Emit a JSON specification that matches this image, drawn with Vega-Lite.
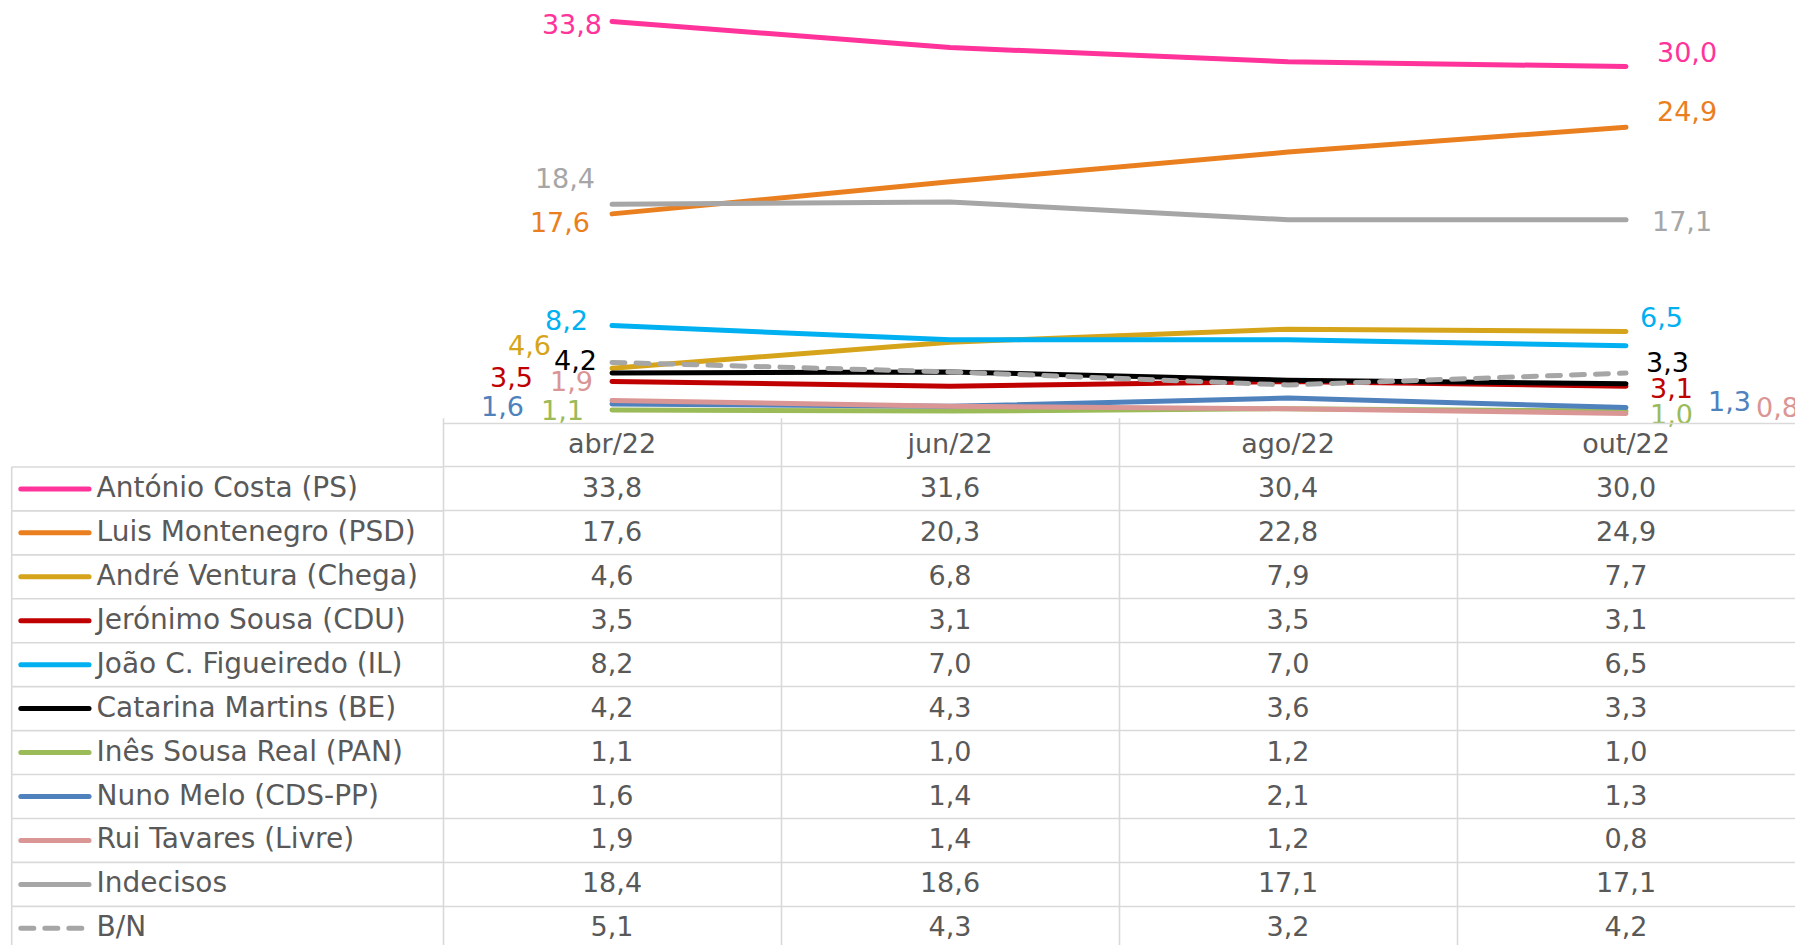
{
  "$schema": "https://vega.github.io/schema/vega-lite/v6.json",
  "padding": 0,
  "background": "white",
  "spacing": 0,
  "bounds": "flush",
  "columns": 2,
  "datasets": {
    "d": [
      {"c": "António Costa (PS)", "m": "abr/22", "v": 33.8},
      {"c": "António Costa (PS)", "m": "jun/22", "v": 31.6},
      {"c": "António Costa (PS)", "m": "ago/22", "v": 30.4},
      {"c": "António Costa (PS)", "m": "out/22", "v": 30.0},
      {"c": "Luis Montenegro (PSD)", "m": "abr/22", "v": 17.6},
      {"c": "Luis Montenegro (PSD)", "m": "jun/22", "v": 20.3},
      {"c": "Luis Montenegro (PSD)", "m": "ago/22", "v": 22.8},
      {"c": "Luis Montenegro (PSD)", "m": "out/22", "v": 24.9},
      {"c": "André Ventura (Chega)", "m": "abr/22", "v": 4.6},
      {"c": "André Ventura (Chega)", "m": "jun/22", "v": 6.8},
      {"c": "André Ventura (Chega)", "m": "ago/22", "v": 7.9},
      {"c": "André Ventura (Chega)", "m": "out/22", "v": 7.7},
      {"c": "Jerónimo Sousa (CDU)", "m": "abr/22", "v": 3.5},
      {"c": "Jerónimo Sousa (CDU)", "m": "jun/22", "v": 3.1},
      {"c": "Jerónimo Sousa (CDU)", "m": "ago/22", "v": 3.5},
      {"c": "Jerónimo Sousa (CDU)", "m": "out/22", "v": 3.1},
      {"c": "João C. Figueiredo (IL)", "m": "abr/22", "v": 8.2},
      {"c": "João C. Figueiredo (IL)", "m": "jun/22", "v": 7.0},
      {"c": "João C. Figueiredo (IL)", "m": "ago/22", "v": 7.0},
      {"c": "João C. Figueiredo (IL)", "m": "out/22", "v": 6.5},
      {"c": "Catarina Martins (BE)", "m": "abr/22", "v": 4.2},
      {"c": "Catarina Martins (BE)", "m": "jun/22", "v": 4.3},
      {"c": "Catarina Martins (BE)", "m": "ago/22", "v": 3.6},
      {"c": "Catarina Martins (BE)", "m": "out/22", "v": 3.3},
      {"c": "Inês Sousa Real (PAN)", "m": "abr/22", "v": 1.1},
      {"c": "Inês Sousa Real (PAN)", "m": "jun/22", "v": 1.0},
      {"c": "Inês Sousa Real (PAN)", "m": "ago/22", "v": 1.2},
      {"c": "Inês Sousa Real (PAN)", "m": "out/22", "v": 1.0},
      {"c": "Nuno Melo (CDS-PP)", "m": "abr/22", "v": 1.6},
      {"c": "Nuno Melo (CDS-PP)", "m": "jun/22", "v": 1.4},
      {"c": "Nuno Melo (CDS-PP)", "m": "ago/22", "v": 2.1},
      {"c": "Nuno Melo (CDS-PP)", "m": "out/22", "v": 1.3},
      {"c": "Rui Tavares (Livre)", "m": "abr/22", "v": 1.9},
      {"c": "Rui Tavares (Livre)", "m": "jun/22", "v": 1.4},
      {"c": "Rui Tavares (Livre)", "m": "ago/22", "v": 1.2},
      {"c": "Rui Tavares (Livre)", "m": "out/22", "v": 0.8},
      {"c": "Indecisos", "m": "abr/22", "v": 18.4},
      {"c": "Indecisos", "m": "jun/22", "v": 18.6},
      {"c": "Indecisos", "m": "ago/22", "v": 17.1},
      {"c": "Indecisos", "m": "out/22", "v": 17.1},
      {"c": "B/N", "m": "abr/22", "v": 5.1},
      {"c": "B/N", "m": "jun/22", "v": 4.3},
      {"c": "B/N", "m": "ago/22", "v": 3.2},
      {"c": "B/N", "m": "out/22", "v": 4.2}
    ]
  },
  "data": {"name": "d"},
  "concat": [
    {
      "width": 443,
      "height": 423,
      "transform": [{"filter": "false"}],
      "mark": {"type": "text"},
      "encoding": {"text": {"value": ""}}
    },
    {
      "width": 1352,
      "height": 423,
      "encoding": {
        "x": {
          "field": "m",
          "type": "nominal",
          "sort": null,
          "scale": {"type": "point", "domain": ["abr/22", "jun/22", "ago/22", "out/22"], "padding": 0.5},
          "axis": null
        },
        "y": {
          "field": "v",
          "type": "quantitative",
          "scale": {"domain": [0, 35.6], "nice": false, "zero": false},
          "axis": null
        },
        "color": {
          "field": "c",
          "type": "nominal",
          "scale": {
            "domain": ["António Costa (PS)", "Luis Montenegro (PSD)", "André Ventura (Chega)", "Jerónimo Sousa (CDU)", "João C. Figueiredo (IL)", "Catarina Martins (BE)", "Inês Sousa Real (PAN)", "Nuno Melo (CDS-PP)", "Rui Tavares (Livre)", "Indecisos", "B/N"],
            "range": ["#FF3399", "#EA7F1F", "#D6A41A", "#C00000", "#00B0F0", "#000000", "#9BBB59", "#4F81BD", "#DA9694", "#A6A6A6", "#A6A6A6"]
          },
          "legend": null
        }
      },
      "layer": [
        {
          "transform": [{"filter": "datum.c !== 'B/N'"}],
          "mark": {"type": "line", "strokeWidth": 5, "strokeCap": "round", "strokeJoin": "round"}
        },
        {
          "transform": [{"filter": "datum.c === 'B/N'"}],
          "mark": {"type": "line", "strokeWidth": 5, "strokeCap": "round", "strokeJoin": "round", "strokeDash": [13, 11]}
        },
        {
          "transform": [{"filter": "datum.c === 'António Costa (PS)' && datum.m === 'abr/22'"}],
          "mark": {"type": "text", "align": "right", "baseline": "middle", "fontSize": 27, "dx": -10, "dy": 5},
          "encoding": {"text": {"field": "v", "format": ".1f"}}
        },
        {
          "transform": [{"filter": "datum.c === 'Indecisos' && datum.m === 'abr/22'"}],
          "mark": {"type": "text", "align": "right", "baseline": "middle", "fontSize": 27, "dx": -17, "dy": -24},
          "encoding": {"text": {"field": "v", "format": ".1f"}}
        },
        {
          "transform": [{"filter": "datum.c === 'Luis Montenegro (PSD)' && datum.m === 'abr/22'"}],
          "mark": {"type": "text", "align": "right", "baseline": "middle", "fontSize": 27, "dx": -22, "dy": 10},
          "encoding": {"text": {"field": "v", "format": ".1f"}}
        },
        {
          "transform": [{"filter": "datum.c === 'João C. Figueiredo (IL)' && datum.m === 'abr/22'"}],
          "mark": {"type": "text", "align": "right", "baseline": "middle", "fontSize": 27, "dx": -24, "dy": -4},
          "encoding": {"text": {"field": "v", "format": ".1f"}}
        },
        {
          "transform": [{"filter": "datum.c === 'André Ventura (Chega)' && datum.m === 'abr/22'"}],
          "mark": {"type": "text", "align": "right", "baseline": "middle", "fontSize": 27, "dx": -61, "dy": -21},
          "encoding": {"text": {"field": "v", "format": ".1f"}}
        },
        {
          "transform": [{"filter": "datum.c === 'Catarina Martins (BE)' && datum.m === 'abr/22'"}],
          "mark": {"type": "text", "align": "right", "baseline": "middle", "fontSize": 27, "dx": -15, "dy": -11},
          "encoding": {"text": {"field": "v", "format": ".1f"}}
        },
        {
          "transform": [{"filter": "datum.c === 'Jerónimo Sousa (CDU)' && datum.m === 'abr/22'"}],
          "mark": {"type": "text", "align": "right", "baseline": "middle", "fontSize": 27, "dx": -79, "dy": -2},
          "encoding": {"text": {"field": "v", "format": ".1f"}}
        },
        {
          "transform": [{"filter": "datum.c === 'Rui Tavares (Livre)' && datum.m === 'abr/22'"}],
          "mark": {"type": "text", "align": "right", "baseline": "middle", "fontSize": 27, "dx": -19, "dy": -17},
          "encoding": {"text": {"field": "v", "format": ".1f"}}
        },
        {
          "transform": [{"filter": "datum.c === 'Nuno Melo (CDS-PP)' && datum.m === 'abr/22'"}],
          "mark": {"type": "text", "align": "right", "baseline": "middle", "fontSize": 27, "dx": -88, "dy": 4},
          "encoding": {"text": {"field": "v", "format": ".1f"}}
        },
        {
          "transform": [{"filter": "datum.c === 'Inês Sousa Real (PAN)' && datum.m === 'abr/22'"}],
          "mark": {"type": "text", "align": "right", "baseline": "middle", "fontSize": 27, "dx": -28, "dy": 2},
          "encoding": {"text": {"field": "v", "format": ".1f"}}
        },
        {
          "transform": [{"filter": "datum.c === 'António Costa (PS)' && datum.m === 'out/22'"}],
          "mark": {"type": "text", "align": "left", "baseline": "middle", "fontSize": 27, "dx": 31, "dy": -13},
          "encoding": {"text": {"field": "v", "format": ".1f"}}
        },
        {
          "transform": [{"filter": "datum.c === 'Luis Montenegro (PSD)' && datum.m === 'out/22'"}],
          "mark": {"type": "text", "align": "left", "baseline": "middle", "fontSize": 27, "dx": 31, "dy": -14},
          "encoding": {"text": {"field": "v", "format": ".1f"}}
        },
        {
          "transform": [{"filter": "datum.c === 'Indecisos' && datum.m === 'out/22'"}],
          "mark": {"type": "text", "align": "left", "baseline": "middle", "fontSize": 27, "dx": 26, "dy": 3},
          "encoding": {"text": {"field": "v", "format": ".1f"}}
        },
        {
          "transform": [{"filter": "datum.c === 'João C. Figueiredo (IL)' && datum.m === 'out/22'"}],
          "mark": {"type": "text", "align": "left", "baseline": "middle", "fontSize": 27, "dx": 14, "dy": -27},
          "encoding": {"text": {"field": "v", "format": ".1f"}}
        },
        {
          "transform": [{"filter": "datum.c === 'Catarina Martins (BE)' && datum.m === 'out/22'"}],
          "mark": {"type": "text", "align": "left", "baseline": "middle", "fontSize": 27, "dx": 20, "dy": -20},
          "encoding": {"text": {"field": "v", "format": ".1f"}}
        },
        {
          "transform": [{"filter": "datum.c === 'Jerónimo Sousa (CDU)' && datum.m === 'out/22'"}],
          "mark": {"type": "text", "align": "left", "baseline": "middle", "fontSize": 27, "dx": 24, "dy": 4},
          "encoding": {"text": {"field": "v", "format": ".1f"}}
        },
        {
          "transform": [{"filter": "datum.c === 'Inês Sousa Real (PAN)' && datum.m === 'out/22'"}],
          "mark": {"type": "text", "align": "left", "baseline": "middle", "fontSize": 27, "dx": 24, "dy": 5},
          "encoding": {"text": {"field": "v", "format": ".1f"}}
        },
        {
          "transform": [{"filter": "datum.c === 'Nuno Melo (CDS-PP)' && datum.m === 'out/22'"}],
          "mark": {"type": "text", "align": "left", "baseline": "middle", "fontSize": 27, "dx": 82, "dy": -5},
          "encoding": {"text": {"field": "v", "format": ".1f"}}
        },
        {
          "transform": [{"filter": "datum.c === 'Rui Tavares (Livre)' && datum.m === 'out/22'"}],
          "mark": {"type": "text", "align": "left", "baseline": "middle", "fontSize": 27, "dx": 130, "dy": -4},
          "encoding": {"text": {"field": "v", "format": ".1f"}}
        }
      ]
    },
    {
      "width": 443,
      "height": 522,
      "encoding": {
        "y": {
          "field": "c",
          "type": "nominal",
          "sort": null,
          "scale": {
            "type": "band",
            "domain": ["hdr", "António Costa (PS)", "Luis Montenegro (PSD)", "André Ventura (Chega)", "Jerónimo Sousa (CDU)", "João C. Figueiredo (IL)", "Catarina Martins (BE)", "Inês Sousa Real (PAN)", "Nuno Melo (CDS-PP)", "Rui Tavares (Livre)", "Indecisos", "B/N"],
            "range": [0, 527.3],
            "paddingInner": 0,
            "paddingOuter": 0
          },
          "axis": null
        }
      },
      "layer": [
        {
          "transform": [{"filter": "datum.m === 'abr/22'"}],
          "mark": {"type": "rule", "color": "#d9d9d9", "strokeWidth": 1.6},
          "encoding": {
            "y": {"field": "c", "type": "nominal", "bandPosition": 0},
            "x": {"datum": 2.64, "type": "quantitative", "scale": {"domain": [0, 100], "nice": false, "zero": false}, "axis": null},
            "x2": {"datum": 100}
          }
        },
        {
          "transform": [{"filter": "datum.m === 'abr/22'"}],
          "mark": {"type": "rect", "color": "#d9d9d9"},
          "encoding": {
            "x": {"datum": 2.46, "type": "quantitative"},
            "x2": {"datum": 2.82}
          }
        },
        {
          "transform": [{"filter": "datum.m === 'abr/22' && datum.c !== 'B/N'"}],
          "mark": {"type": "rule", "strokeWidth": 5, "strokeCap": "round"},
          "encoding": {
            "x": {"datum": 4.7, "type": "quantitative"},
            "x2": {"datum": 20.1},
            "color": {
              "field": "c",
              "type": "nominal",
              "scale": {
                "domain": ["António Costa (PS)", "Luis Montenegro (PSD)", "André Ventura (Chega)", "Jerónimo Sousa (CDU)", "João C. Figueiredo (IL)", "Catarina Martins (BE)", "Inês Sousa Real (PAN)", "Nuno Melo (CDS-PP)", "Rui Tavares (Livre)", "Indecisos", "B/N"],
                "range": ["#FF3399", "#EA7F1F", "#D6A41A", "#C00000", "#00B0F0", "#000000", "#9BBB59", "#4F81BD", "#DA9694", "#A6A6A6", "#A6A6A6"]
              },
              "legend": null
            }
          }
        },
        {
          "transform": [{"filter": "datum.m === 'abr/22' && datum.c === 'B/N'"}],
          "mark": {"type": "rule", "strokeWidth": 5, "strokeCap": "round", "strokeDash": [13, 11], "color": "#A6A6A6"},
          "encoding": {
            "x": {"datum": 4.7, "type": "quantitative"},
            "x2": {"datum": 20.1}
          }
        },
        {
          "transform": [{"filter": "datum.m === 'abr/22'"}],
          "mark": {"type": "text", "align": "left", "baseline": "middle", "fontSize": 28, "color": "#595959"},
          "encoding": {
            "x": {"datum": 21.8, "type": "quantitative"},
            "text": {"field": "c"}
          }
        }
      ]
    },
    {
      "width": 1352,
      "height": 522,
      "encoding": {
        "x": {
          "field": "m",
          "type": "nominal",
          "sort": null,
          "scale": {"type": "band", "domain": ["abr/22", "jun/22", "ago/22", "out/22"], "paddingInner": 0, "paddingOuter": 0},
          "axis": {"grid": true, "bandPosition": 0, "gridColor": "#d9d9d9", "gridWidth": 1.6, "labels": false, "ticks": false, "domain": false, "title": null}
        },
        "y": {
          "field": "c",
          "type": "nominal",
          "sort": null,
          "scale": {
            "type": "band",
            "domain": ["hdr", "António Costa (PS)", "Luis Montenegro (PSD)", "André Ventura (Chega)", "Jerónimo Sousa (CDU)", "João C. Figueiredo (IL)", "Catarina Martins (BE)", "Inês Sousa Real (PAN)", "Nuno Melo (CDS-PP)", "Rui Tavares (Livre)", "Indecisos", "B/N"],
            "range": [0, 527.3],
            "paddingInner": 0,
            "paddingOuter": 0
          },
          "axis": {"grid": true, "bandPosition": 0, "gridColor": "#d9d9d9", "gridWidth": 1.6, "labels": false, "ticks": false, "domain": false, "title": null}
        }
      },
      "layer": [
        {
          "mark": {"type": "text", "baseline": "middle", "fontSize": 27, "color": "#595959"},
          "encoding": {"text": {"field": "v", "format": ".1f"}}
        },
        {
          "transform": [{"filter": "datum.c === 'António Costa (PS)'"}],
          "mark": {"type": "text", "baseline": "middle", "fontSize": 27, "color": "#595959"},
          "encoding": {
            "y": {"datum": "hdr"},
            "text": {"field": "m"}
          }
        }
      ]
    }
  ],
  "config": {
    "view": {"stroke": null},
    "text": {"font": "DejaVu Sans"},
    "locale": {
      "number": {"decimal": ",", "thousands": ".", "grouping": [3], "currency": ["", " €"]}
    }
  }
}
